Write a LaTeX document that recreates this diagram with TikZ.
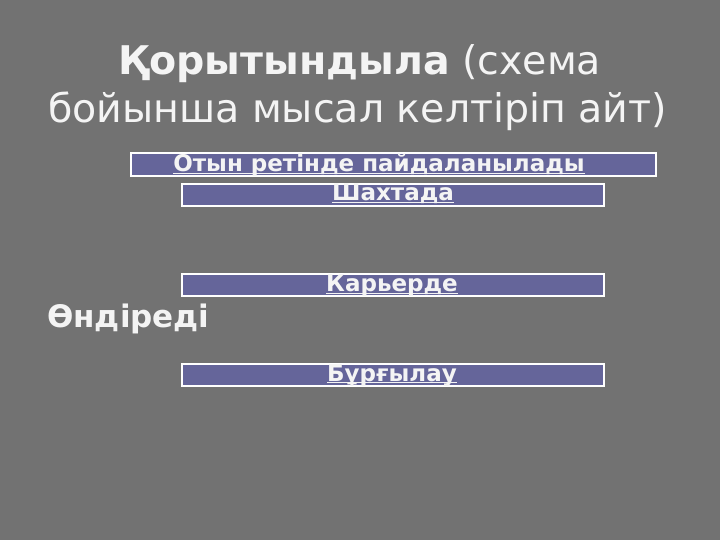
\documentclass[tikz,border=0pt]{standalone}
\usepackage{fontspec}
\setmainfont{DejaVu Sans}
\definecolor{bg}{HTML}{727272}
\definecolor{boxfill}{HTML}{65659A}
\definecolor{txt}{HTML}{F4F4F4}
\begin{document}
\begin{tikzpicture}[x=1pt,y=-1pt,
  bar/.style={draw=white,line width=1.8pt,fill=boxfill,inner sep=0pt,anchor=north west},
  bartext/.style={text=txt,font=\fontsize{23}{23}\selectfont\bfseries,inner sep=0pt,anchor=base},
  uline/.style={draw=txt,line width=1.1pt},
  titletext/.style={text=txt,font=\fontsize{39.5}{39.5}\selectfont,anchor=base,inner sep=0pt}]
\useasboundingbox (0,0) rectangle (720,540);
\fill[bg] (0,0) rectangle (720,540);
\node[titletext] (t1) at (360,75) {\textbf{Қорытындыла} (схема};
\node[titletext] (t2) at (357.5,123) {бойынша мысал келтіріп айт)};
\node[bar,minimum width=525pt,minimum height=23pt] (b1) at (130,152) {};
\node[bartext] (l1) at (379,172) {Отын ретінде пайдаланылады};
\node[bar,minimum width=422pt,minimum height=22pt] (b2) at (181,183) {};
\node[bartext] (l2) at (393,201) {Шахтада};
\node[bar,minimum width=422pt,minimum height=22pt] (b3) at (181,273) {};
\node[bartext] (l3) at (392,291.5) {Карьерде};
\node[bar,minimum width=422pt,minimum height=22pt] (b4) at (181,363) {};
\node[bartext] (l4) at (392,381) {Бұрғылау};
\foreach \n in {l1,l2,l3,l4}
  \draw[uline] ([yshift=-1.6pt]\n.base west) -- ([yshift=-1.6pt]\n.base east);
\node[text=txt,font=\fontsize{31}{31}\selectfont\bfseries,anchor=base west,inner sep=0pt] (o) at (47,327) {Өндіреді};
\end{tikzpicture}
\end{document}
